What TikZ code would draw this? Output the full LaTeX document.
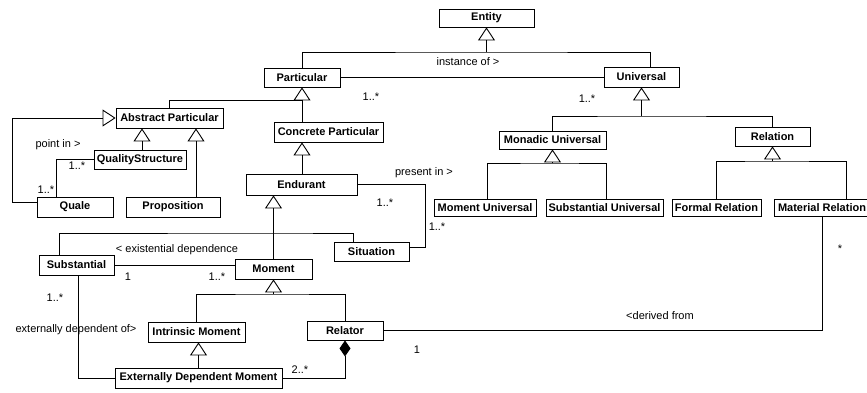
\documentclass[tikz,border=0pt]{standalone}
\usepackage{fontspec}
\setmainfont{Liberation Sans}
\usetikzlibrary{arrows.meta}

\tikzset{
	cls/.style={draw, font=\fontsize{11}{13}\selectfont\bfseries, inner sep=0pt, minimum height=19pt},
	lbl/.style={font=\fontsize{11}{13}\selectfont, inner sep=0pt},
	gen/.style={-{Triangle[open,length=13pt,width=17pt]}},
	comp/.style={-{Diamond[length=16pt,width=11pt]}}
}

\begin{document}
\begin{tikzpicture}[x=1pt, y=-1pt, line width=0.9pt]
	\useasboundingbox (0,0) rectangle (867,393);

	% classes
	\node[cls, minimum width=95pt, minimum height=18pt] (entity) at (486.5,18) {Entity};
	\node[cls, minimum width=76pt] (particular) at (302,77.5) {Particular};
	\node[cls, minimum width=75pt, minimum height=20pt] (universal) at (641.5,77) {Universal};
	\node[cls, minimum width=107pt, minimum height=20pt] (abspart) at (169.5,118) {Abstract Particular};
	\node[cls, minimum width=109pt, minimum height=20pt] (concpart) at (328.5,132) {Concrete Particular};
	\node[cls, minimum width=107pt, minimum height=18pt] (monuniv) at (552.5,140) {Monadic Universal};
	\node[cls, minimum width=75pt] (relation) at (772.5,136.5) {Relation};
	\node[cls, minimum width=92pt] (qualstruct) at (140,159.5) {QualityStructure};
	\node[cls, minimum width=111pt, minimum height=21pt] (endurant) at (301.5,184.5) {Endurant};
	\node[cls, minimum width=76pt, minimum height=20pt] (quale) at (75,207) {Quale};
	\node[cls, minimum width=94pt, minimum height=20pt] (proposition) at (173,207) {Proposition};
	\node[cls, minimum width=102pt, minimum height=17pt] (momuniv) at (485,207.5) {Moment Universal};
	\node[cls, minimum width=117pt, minimum height=17pt] (subuniv) at (604.5,207.5) {Substantial Universal};
	\node[cls, minimum width=89pt, minimum height=17pt] (formrel) at (716.5,207.5) {Formal Relation};
	\node[cls, minimum width=96pt, minimum height=17pt] (matrel) at (822,207.5) {Material Relation};
	\node[cls, minimum width=75pt] (situation) at (371.5,251.5) {Situation};
	\node[cls, minimum width=75pt, minimum height=20pt] (substantial) at (76.5,265) {Substantial};
	\node[cls, minimum width=77pt, minimum height=20pt] (moment) at (273.5,269) {Moment};
	\node[cls, minimum width=97pt, minimum height=20pt] (intmom) at (196.5,332) {Intrinsic Moment};
	\node[cls, minimum width=76pt] (relator) at (345,330.5) {Relator};
	\node[cls, minimum width=167pt, minimum height=20pt] (edm) at (198.5,378) {Externally Dependent Moment};

	% junctions of the generalization trees
	\coordinate (jent) at (486.5,52);
	\coordinate (jpart) at (302,100);
	\coordinate (juni) at (641.5,116);
	\coordinate (jmon) at (552.5,163);
	\coordinate (jrel) at (772.5,161);
	\coordinate (jend) at (273.5,233);
	\coordinate (jmom) at (273.5,294);

	\draw[gen] (jent) -- (entity.south);
	\draw (particular.north) |- (jent) -| ([xshift=8.5pt]universal.north);

	\draw[gen] (jpart) -- (particular.south);
	\draw (abspart.north) |- (jpart) -- (jpart |- concpart.north);
	\draw[gen] (endurant.north -| jpart) -- (jpart |- concpart.south);

	\draw[gen] (juni) -- (universal.south);
	\draw (monuniv.north) |- (juni) -| (relation.north);
	\draw[gen] (jmon) -- (monuniv.south);
	\draw ([xshift=2pt]momuniv.north) |- (jmon) -| ([xshift=1.5pt]subuniv.north);
	\draw[gen] (jrel) -- (relation.south);
	\draw (formrel.north) |- (jrel) -| ([xshift=24pt]matrel.north);

	\draw[gen] ([xshift=2pt]qualstruct.north) -- ([xshift=2pt]qualstruct.north |- abspart.south);
	\draw[gen] ([xshift=23pt]proposition.north) -- ([xshift=23pt]proposition.north |- abspart.south);
	\draw[gen] ([yshift=5pt]quale.west) -- ++(-24,0) |- (abspart.west);

	\draw[gen] (jend) -- (endurant.south -| jend);
	\draw (moment.north) -- (jend);
	\draw ([xshift=-17.5pt]substantial.north) |- (jend) -| ([xshift=-18.5pt]situation.north);

	\draw[gen] (jmom) -- (moment.south);
	\draw (intmom.north) |- (jmom) -| (relator.north);
	\draw[gen] (edm.north) -- (edm.north |- intmom.south);

	% associations
	\draw (particular.east) -- (particular.east -| universal.west);
	\draw (qualstruct.west) -| ([xshift=-19pt]quale.north);
	\draw (endurant.east) -- ++(68,0) |- ([yshift=4.5pt]situation.east);
	\draw (substantial.east) -- (substantial.east -| moment.west);
	\draw ([xshift=1.5pt]substantial.south) |- (edm.west);
	\draw[comp] (edm.east) -| (relator.south);
	\draw (relator.east) -| (matrel.south);

	\node[lbl] (instof) at (468,62) {instance of >};
	\node[lbl] (pointin) at (58,145) {point in >};
	\node[lbl] (presentin) at (424,173) {present in >};
	\node[lbl] (existdep) at (177,250) {< existential dependence};
	\node[lbl] (extdep) at (76,330) {externally dependent of>};
	\node[lbl] (derived) at (660,316) {<derived from};

	% multiplicities
	\foreach \x/\y/\t [count=\i] in {371/97/1..*, 587/99/1..*, 77/166/1..*, 46/190/1..*, 385/203/1..*, 437/227/1..*, 128/277/1, 217/277/1..*, 55/298/1..*, 300/370/2..*, 840/249/*, 417/350/1}
		\node[lbl] (mult\i) at (\x,\y) {\t};

\end{tikzpicture}
\end{document}
